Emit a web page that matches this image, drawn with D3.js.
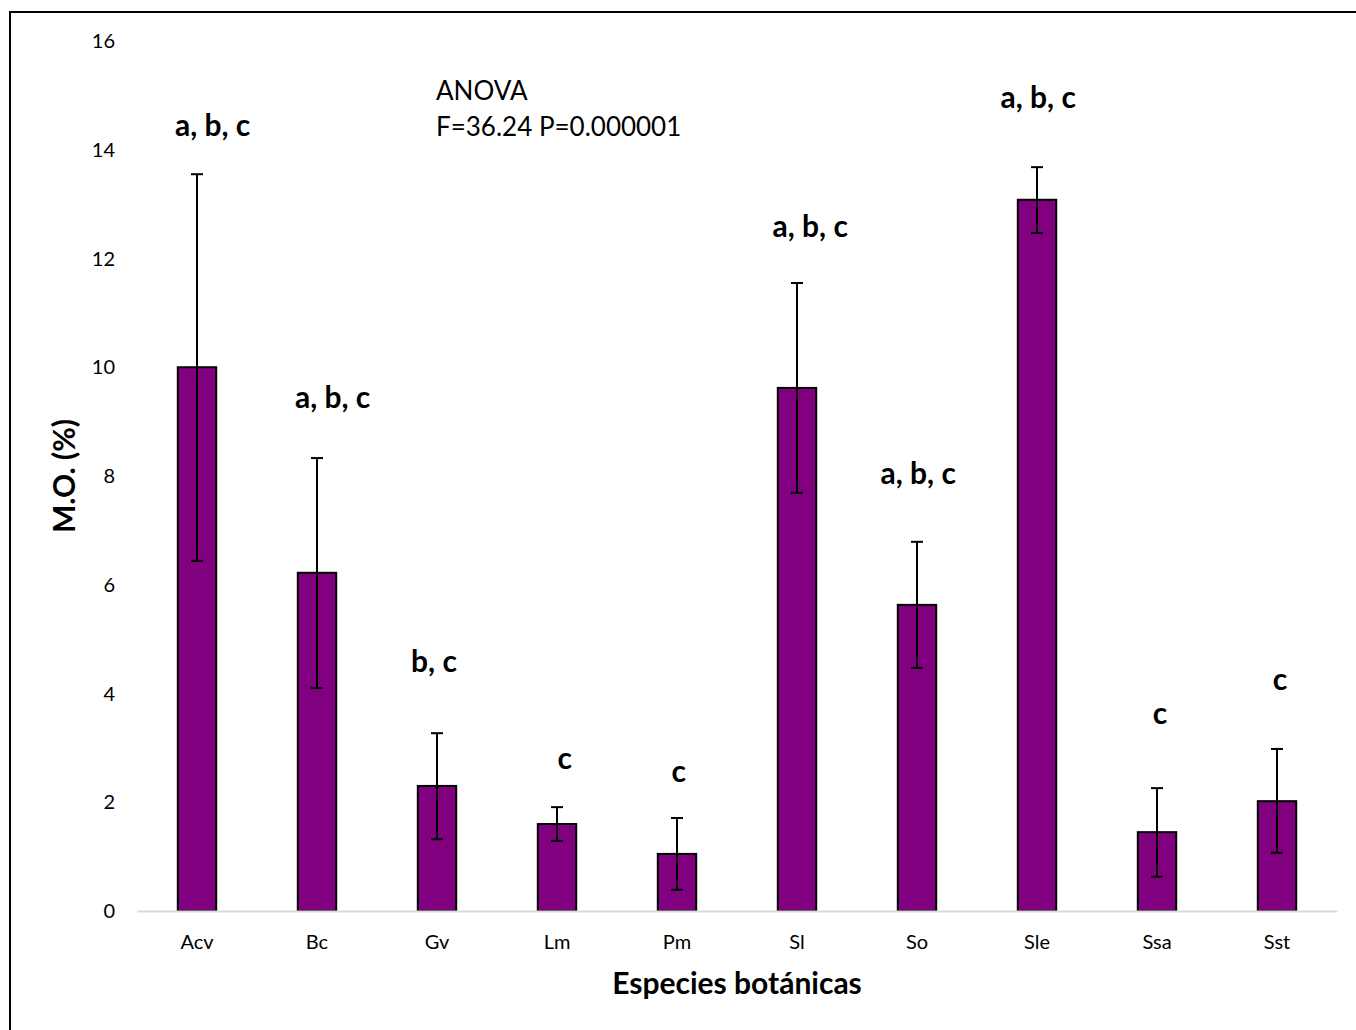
<!DOCTYPE html>
<html><head><meta charset="utf-8">
<script src="https://cdn.jsdelivr.net/npm/d3@7"></script>
<style>body{margin:0;background:#fff}svg{display:block;font-family:Lato,"Open Sans",sans-serif}</style>
</head><body><svg id="c" width="1356" height="1030"></svg>
<script>
const categories = ["Acv","Bc","Gv","Lm","Pm","Sl","So","Sle","Ssa","Sst"];
const means = [10.0, 6.22, 2.3, 1.6, 1.05, 9.62, 5.63, 13.08, 1.45, 2.02];
const errUpper = [13.55, 8.33, 3.27, 1.91, 1.71, 11.55, 6.79, 13.68, 2.26, 2.98];
const errLower = [6.44, 4.1, 1.32, 1.29, 0.39, 7.69, 4.47, 12.47, 0.63, 1.07];
const groupLabels = ["a, b, c","a, b, c","b, c","c","c","a, b, c","a, b, c","a, b, c","c","c"];
const labelLevels = [14.44, 9.45, 4.58, 2.81, 2.57, 12.58, 8.04, 14.97, 3.64, 4.25];
// horizontal shift of each letter label, as a fraction of the category step
const labelShift = [0.13, 0.13, -0.025, 0.065, 0.015, 0.11, 0.01, 0.01, 0.025, 0.025];
const yTicks = [0,2,4,6,8,10,12,14,16];

const svg = d3.select("#c");
svg.append("rect").attr("x",10).attr("y",12).attr("width",1360).attr("height",1040)
  .attr("fill","none").attr("stroke","#000").attr("stroke-width",2);

const x = d3.scaleBand().domain(categories).range([137,1337]).paddingInner(0.68).paddingOuter(0.34);
const y = d3.scaleLinear().domain([0,16]).range([911,41]);

// y tick labels
svg.append("g").selectAll("text").data(yTicks).join("text")
  .attr("x",115).attr("y",d=>y(d)).attr("dy","0.35em").attr("text-anchor","end")
  .attr("font-size",20).attr("fill","#000").text(d=>d);

// bars
svg.selectAll("rect.bar").data(categories).join("rect").attr("class","bar")
  .attr("x",d=>x(d)).attr("width",x.bandwidth())
  .attr("y",(d,i)=>y(means[i])).attr("height",(d,i)=>y(0)-y(means[i]))
  .attr("fill","#800080").attr("stroke","#000").attr("stroke-width",2);

// baseline + category labels
const xa = svg.append("g").attr("transform",`translate(0,${y(0)})`)
  .call(d3.axisBottom(x).tickSize(0).tickPadding(24));
xa.select(".domain").attr("stroke","#d9d9d9").attr("stroke-width",2);
xa.selectAll("text").attr("font-size",20).attr("font-family","Lato,'Open Sans',sans-serif").attr("fill","#000");

// error bars
const eb = svg.append("g").attr("stroke","#000").attr("stroke-width",2);
categories.forEach((c,i)=>{
  const cx = x(c)+x.bandwidth()/2;
  eb.append("line").attr("x1",cx).attr("x2",cx).attr("y1",y(errUpper[i])).attr("y2",y(errLower[i]));
  eb.append("line").attr("x1",cx-6).attr("x2",cx+6).attr("y1",y(errUpper[i])).attr("y2",y(errUpper[i]));
  eb.append("line").attr("x1",cx-6).attr("x2",cx+6).attr("y1",y(errLower[i])).attr("y2",y(errLower[i]));
});

// group letters
svg.selectAll("text.grp").data(categories).join("text").attr("class","grp")
  .attr("x",(d,i)=>x(d)+x.bandwidth()/2+labelShift[i]*x.step()).attr("y",(d,i)=>y(labelLevels[i])).attr("dy","0.35em")
  .attr("text-anchor","middle").attr("font-size",30).attr("font-weight","bold").text((d,i)=>groupLabels[i]);

// ANOVA
svg.append("text").attr("x",436).attr("y",100).attr("font-size",26).text("ANOVA");
svg.append("text").attr("x",436).attr("y",136).attr("font-size",26).text("F=36.24 P=0.000001");

// axis titles
svg.append("text").attr("x",737).attr("y",994).attr("text-anchor","middle")
  .attr("font-size",30).attr("font-weight","bold").text("Especies botánicas");
svg.append("text").attr("transform","translate(75,476) rotate(-90)").attr("text-anchor","middle")
  .attr("font-size",30).attr("font-weight","bold").text("M.O. (%)");
</script></body></html>
